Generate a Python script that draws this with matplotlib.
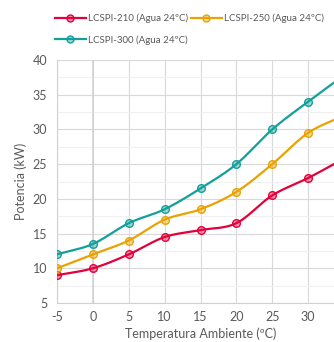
import numpy as np
import matplotlib
matplotlib.use("Agg")
import matplotlib.pyplot as plt
from matplotlib.ticker import MultipleLocator

plt.rcParams['font.family'] = ['Lato', 'DejaVu Sans']
plt.rcParams['axes.unicode_minus'] = False

temps = [-5, 0, 5, 10, 15, 20, 25, 30, 35]
lcspi_210 = [9, 10, 12, 14.5, 15.5, 16.5, 20.5, 23, 25.8]
lcspi_250 = [10, 12, 14, 17, 18.5, 21, 25, 29.5, 32]
lcspi_300 = [12, 13.5, 16.5, 18.5, 21.5, 25, 30, 34, 37.8]
x_ticks = [-5, 0, 5, 10, 15, 20, 25, 30]
labels = ['LCSPI-210 (Agua 24ºC)', 'LCSPI-250 (Agua 24ºC)', 'LCSPI-300 (Agua 24ºC)']
colors = ['#E4003B', '#E9A300', '#13A09A']


def smooth(x, y, n=20):
    # catmull-rom through the points, like excel's smoothed line
    x = np.asarray(x, float)
    y = np.asarray(y, float)
    px = np.concatenate([[2 * x[0] - x[1]], x, [2 * x[-1] - x[-2]]])
    py = np.concatenate([[2 * y[0] - y[1]], y, [2 * y[-1] - y[-2]]])
    xs, ys = [], []
    t = np.linspace(0, 1, n, endpoint=False)
    for i in range(1, len(px) - 2):
        for p, out in ((px, xs), (py, ys)):
            p0, p1, p2, p3 = p[i - 1], p[i], p[i + 1], p[i + 2]
            out.extend(0.5 * (2 * p1 + (-p0 + p2) * t
                              + (2 * p0 - 5 * p1 + 4 * p2 - p3) * t ** 2
                              + (-p0 + 3 * p1 - 3 * p2 + p3) * t ** 3))
    xs.append(x[-1])
    ys.append(y[-1])
    return xs, ys


fig = plt.figure(figsize=(3.34, 3.42), dpi=100)
ax = fig.add_axes([57 / 334, 39 / 342, 287 / 334, 243 / 342])

handles = {}
for vals, col, lab in zip([lcspi_210, lcspi_250, lcspi_300], colors, labels):
    sx, sy = smooth(temps, vals)
    ax.plot(sx, sy, color=col, lw=1.6, zorder=3)
    ax.plot(temps, vals, ls='none', marker='o', ms=5.5, mfc=col + '66',
            mec=col, mew=1.0, zorder=4)
    h, = ax.plot([], [], color=col, lw=1.6, marker='o', ms=5,
                 mfc=col + '66', mec=col, mew=1.0, label=lab)
    handles[lab] = h

ax.set_xlim(-5, 35)
ax.set_ylim(5, 40)
ax.set_xticks(x_ticks)
ax.yaxis.set_major_locator(MultipleLocator(5))
ax.yaxis.set_minor_locator(MultipleLocator(2.5))
ax.grid(which='major', color='#D9D9D9', lw=0.8)
ax.grid(which='minor', axis='y', color='#F0F0F0', lw=0.8)
ax.axvline(0, color='#D0D0D0', lw=1.1, zorder=1)
ax.set_axisbelow(True)
for s in ['top', 'right']:
    ax.spines[s].set_visible(False)
for s in ['left', 'bottom']:
    ax.spines[s].set_color('#D0D0D0')
ax.tick_params(which='both', length=0, colors='#595959', labelsize=9, pad=6)
ax.tick_params(axis='y', pad=7)
ax.set_xlabel('Temperatura Ambiente (ºC)', color='#595959', fontsize=9, labelpad=3)
ax.set_ylabel('Potencia (kW)', color='#595959', fontsize=9, labelpad=4)

# ncol fills column by column, so order the handles to get 210, 250 on the first row
order = [labels[0], labels[2], labels[1]]
fig.legend(handles=[handles[k] for k in order], loc='upper left',
           bbox_to_anchor=(46 / 334, 1 - 5 / 342),
           ncol=2, frameon=False, fontsize=7, handlelength=3.2, handletextpad=0.2,
           columnspacing=0.3, labelspacing=1.2, labelcolor='#595959')

fig.savefig('out.png', dpi=100)
